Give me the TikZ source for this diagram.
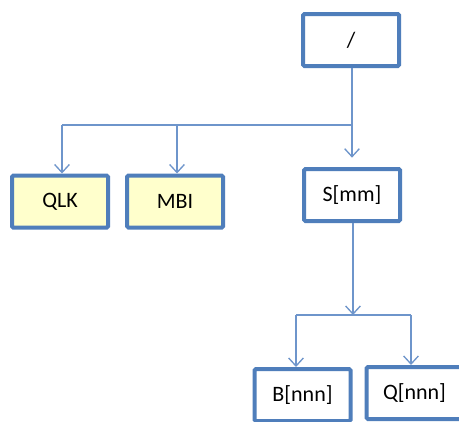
\documentclass[tikz,border=0pt]{standalone}
\usepackage{fontspec}
\setmainfont{Carlito}
\usetikzlibrary{arrows.meta}

\definecolor{boxblue}{HTML}{4F7EBB}
\definecolor{linkblue}{HTML}{6E95CB}
\definecolor{paleyellow}{HTML}{FFFFCC}

\tikzset{
  dirbox/.style={draw=boxblue, line width=3pt, rounded corners=1pt, fill=white,
    minimum width=96*0.75pt, minimum height=52*0.75pt, inner sep=0pt,
    font=\fontsize{16.5}{19}\selectfont},
  filebox/.style={dirbox, fill=paleyellow},
  link/.style={draw=linkblue, line width=1pt},
  linkarrow/.style={link, -{Straight Barb[length=6pt,width=11pt,line width=1pt]}}
}

\begin{document}
\begin{tikzpicture}[x=0.75pt,y=-0.75pt]
\clip (0,0) rectangle (459,421);
\fill[white] (0,0) rectangle (459,421);

% boxes
\node[dirbox]  (root) at (351,40)  {/};
\node[filebox] (qlk)  at (60,201.5)  {QLK};
\node[filebox] (mbi)  at (175,201.5) {MBI};
\node[dirbox]  (smm)  at (352,195) {S[mm]};
\node[dirbox]  (bnnn) at (302.5,395) {B[nnn]};
\node[dirbox]  (qnnn) at (414.5,393) {Q[nnn]};

% junctions
\coordinate (jtop) at (352,125);
\coordinate (jleft) at (62,125);
\coordinate (jmbi) at (177,125);
\coordinate (jlow) at (353,315);
\coordinate (jb) at (296,315);
\coordinate (jq) at (411,315);

% connectors
\draw[link] (jtop |- root.south) -- (jtop);
\draw[link] (jleft) -- (jtop);
\draw[linkarrow, shorten >=7pt] (jtop) -- (jtop |- smm.north);
\draw[linkarrow] (jleft) -- (jleft |- qlk.north);
\draw[linkarrow] (jmbi) -- (jmbi |- mbi.north);

\draw[linkarrow] (jlow |- smm.south) -- (jlow);
\draw[link] (jb) -- (jq);
\draw[linkarrow] (jb) -- (jb |- bnnn.north);
\draw[linkarrow] (jq) -- (jq |- qnnn.north);
\end{tikzpicture}
\end{document}
